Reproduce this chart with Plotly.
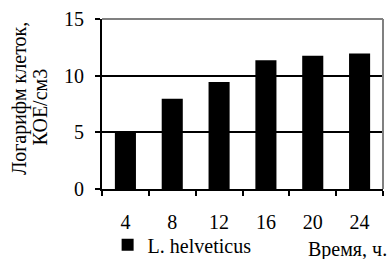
import plotly.graph_objects as go

categories = ["4", "8", "12", "16", "20", "24"]
values = [4.95, 7.97, 9.45, 11.35, 11.75, 11.95]
y_ticks = [0, 5, 10, 15]
series_name = "L. helveticus"
y_title_1 = "Логарифм клеток,"
y_title_2 = "КОЕ/см3"
x_title = "Время, ч."

FONT = "Liberation Serif"

fig = go.Figure()
fig.add_trace(go.Bar(x=categories, y=values, name=series_name,
                     marker=dict(color="black", line=dict(width=0)),
                     showlegend=True))

fig.update_layout(
    width=390, height=259,
    margin=dict(l=102, r=7, t=19, b=70, autoexpand=False),
    paper_bgcolor="white", plot_bgcolor="white",
    bargap=0.55,
    font=dict(family=FONT, size=20, color="black"),
    showlegend=True,
    legend=dict(orientation="h", x=0.02, y=-0.213, xanchor="left", yanchor="top",
                font=dict(family=FONT, size=20, color="black"),
                bgcolor="rgba(0,0,0,0)", borderwidth=0,
                itemwidth=30, tracegroupgap=0),
    xaxis=dict(type="category", showline=True, linecolor="black", linewidth=2,
               ticks="outside", tickson="boundaries", ticklen=5, tickwidth=2,
               tickcolor="black", showgrid=False, ticklabelstandoff=14,
               automargin=False,
               tickfont=dict(family=FONT, size=20, color="black")),
    yaxis=dict(range=[0, 15], tickvals=y_ticks, showline=True, linecolor="black",
               linewidth=2, ticks="outside", ticklen=5, tickwidth=2, tickcolor="black",
               showgrid=True, gridcolor="black", gridwidth=2, zeroline=False,
               ticklabelstandoff=7, automargin=False,
               tickfont=dict(family=FONT, size=20, color="black")),
    shapes=[
        dict(type="line", xref="paper", yref="paper", x0=0, x1=1, y0=1, y1=1,
             line=dict(color="#808080", width=2), layer="above"),
        dict(type="line", xref="paper", yref="paper", x0=1, x1=1, y0=0, y1=1,
             line=dict(color="#808080", width=2), layer="above"),
    ],
    annotations=[
        dict(text=y_title_1, xref="paper", yref="paper", x=(20 - 102) / 281, y=0.53,
             xanchor="center", yanchor="middle", textangle=-90, showarrow=False,
             font=dict(family=FONT, size=20, color="black")),
        dict(text=y_title_2, xref="paper", yref="paper", x=(40 - 102) / 281, y=0.48,
             xanchor="center", yanchor="middle", textangle=-90, showarrow=False,
             font=dict(family=FONT, size=20, color="black")),
        dict(text=x_title, xref="paper", yref="paper", x=1, y=(189 - 249) / 170,
             xanchor="right", yanchor="middle", xshift=6, showarrow=False,
             font=dict(family=FONT, size=20, color="black")),
    ],
)

fig.write_html("out.html", config={"displayModeBar": False},
               post_script="document.body.style.margin='0';document.body.style.overflow='hidden';")
